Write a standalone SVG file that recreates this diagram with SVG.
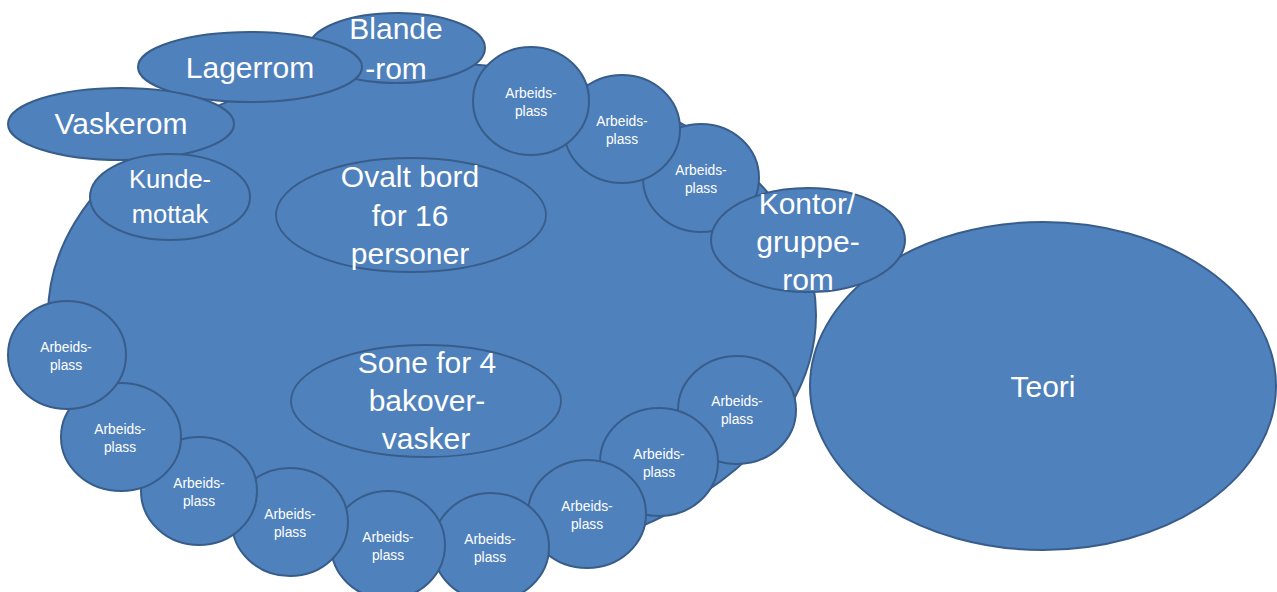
<svg xmlns="http://www.w3.org/2000/svg" width="1277" height="592" viewBox="0 0 1277 592">
<style>
.s{fill:#4F81BD;stroke:#385D8A;stroke-width:2}
.in{fill:#4F81BD;stroke:#385D8A;stroke-width:1.8}
text{fill:#FFFFFF;font-family:"Liberation Sans",Arial,sans-serif;text-anchor:middle}
.L{font-size:30px}
.M{font-size:25.5px}
.S{font-size:13.8px}
</style>
<rect width="1277" height="592" fill="#FFFFFF"/>
<g id="connectors"/>
<g id="salong">
<ellipse class="s" cx="432" cy="315" rx="384" ry="252"/>
</g>
<g id="teori">
<ellipse class="s" cx="1043" cy="386" rx="233" ry="164"/>
<text class="L" x="1043" y="397">Teori</text>
</g>
<g id="blanderom">
<ellipse class="s" cx="397" cy="48" rx="88" ry="35"/>
<text class="L" x="396" y="39">Blande</text>
<text class="L" x="396" y="79">-rom</text>
</g>
<g id="lagerrom">
<ellipse class="s" cx="250" cy="67" rx="112" ry="35"/>
<text class="L" x="250" y="78">Lagerrom</text>
</g>
<g id="vaskerom">
<ellipse class="s" cx="121" cy="124" rx="113" ry="36"/>
<text class="L" x="121" y="134">Vaskerom</text>
</g>
<g id="kundemottak">
<ellipse class="s" cx="170" cy="197" rx="80" ry="43"/>
<text class="M" x="170" y="188">Kunde-</text>
<text class="M" x="170" y="223">mottak</text>
</g>
<g id="ovalt-bord">
<ellipse class="in" cx="411" cy="215" rx="135" ry="57"/>
<text class="L" x="410" y="187">Ovalt bord</text>
<text class="L" x="410" y="226">for 16</text>
<text class="L" x="410" y="264">personer</text>
</g>
<g id="sone-bakovervasker">
<ellipse class="in" cx="426" cy="401" rx="135" ry="56"/>
<text class="L" x="427" y="373">Sone for 4</text>
<text class="L" x="427" y="411">bakover-</text>
<text class="L" x="426" y="449">vasker</text>
</g>
<g id="arbeidsplass-3">
<ellipse class="s" cx="701" cy="178" rx="58" ry="54"/>
<text class="S" x="701" y="175">Arbeids-</text>
<text class="S" x="701" y="193">plass</text>
</g>
<g id="arbeidsplass-2">
<ellipse class="s" cx="622" cy="129" rx="58" ry="54"/>
<text class="S" x="622" y="126">Arbeids-</text>
<text class="S" x="622" y="144">plass</text>
</g>
<g id="arbeidsplass-1">
<ellipse class="s" cx="531" cy="101" rx="58" ry="54"/>
<text class="S" x="531" y="98">Arbeids-</text>
<text class="S" x="531" y="116">plass</text>
</g>
<g id="kontor">
<ellipse class="s" cx="808" cy="240" rx="97" ry="52"/>
<text class="L" x="807" y="214">Kontor/</text>
<text class="L" x="808" y="252">gruppe-</text>
<text class="L" x="808" y="290">rom</text>
</g>
<g id="arbeidsplass-12">
<ellipse class="s" cx="737" cy="410" rx="59" ry="54"/>
<text class="S" x="737" y="406">Arbeids-</text>
<text class="S" x="737" y="424">plass</text>
</g>
<g id="arbeidsplass-11">
<ellipse class="s" cx="659" cy="462" rx="59" ry="54"/>
<text class="S" x="659" y="459">Arbeids-</text>
<text class="S" x="659" y="477">plass</text>
</g>
<g id="arbeidsplass-10">
<ellipse class="s" cx="587" cy="514" rx="59" ry="54"/>
<text class="S" x="587" y="511">Arbeids-</text>
<text class="S" x="587" y="529">plass</text>
</g>
<g id="arbeidsplass-9">
<ellipse class="s" cx="491" cy="547" rx="58" ry="54"/>
<text class="S" x="490" y="544">Arbeids-</text>
<text class="S" x="490" y="562">plass</text>
</g>
<g id="arbeidsplass-8">
<ellipse class="s" cx="388" cy="545" rx="57" ry="54"/>
<text class="S" x="388" y="542">Arbeids-</text>
<text class="S" x="388" y="560">plass</text>
</g>
<g id="arbeidsplass-7">
<ellipse class="s" cx="290" cy="522" rx="58" ry="54"/>
<text class="S" x="290" y="519">Arbeids-</text>
<text class="S" x="290" y="537">plass</text>
</g>
<g id="arbeidsplass-6">
<ellipse class="s" cx="199" cy="491" rx="58" ry="54"/>
<text class="S" x="199" y="488">Arbeids-</text>
<text class="S" x="199" y="506">plass</text>
</g>
<g id="arbeidsplass-5">
<ellipse class="s" cx="121" cy="437" rx="60" ry="54"/>
<text class="S" x="120" y="434">Arbeids-</text>
<text class="S" x="120" y="452">plass</text>
</g>
<g id="arbeidsplass-4">
<ellipse class="s" cx="67" cy="355" rx="59" ry="54"/>
<text class="S" x="66" y="352">Arbeids-</text>
<text class="S" x="66" y="370">plass</text>
</g>
</svg>
